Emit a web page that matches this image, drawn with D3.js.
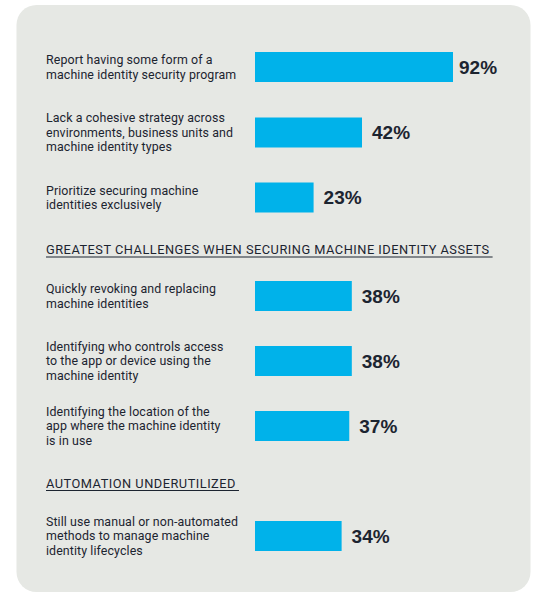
<!DOCTYPE html>
<html>
<head>
<meta charset="utf-8">
<script src="https://cdn.jsdelivr.net/npm/d3@7"></script>
<style>
  body { margin: 0; background: #fff; }
  svg { display: block; }
</style>
</head>
<body>
<div id="chart"></div>
<script>
// survey results, in the order they appear
const sections = ["", "GREATEST CHALLENGES WHEN SECURING MACHINE IDENTITY ASSETS", "AUTOMATION UNDERUTILIZED"];
const itemSection = [0, 0, 0, 1, 1, 1, 2];
const itemLabels = [
    ["Report having some form of a", "machine identity security program"],
    ["Lack a cohesive strategy across", "environments, business units and", "machine identity types"],
    ["Prioritize securing machine", "identities exclusively"],
    ["Quickly revoking and replacing", "machine identities"],
    ["Identifying who controls access", "to the app or device using the", "machine identity"],
    ["Identifying the location of the", "app where the machine identity", "is in use"],
    ["Still use manual or non-automated", "methods to manage machine", "identity lifecycles"]
];
const itemValues = [92, 42, 23, 38, 38, 37, 34];

const width = 540, height = 596;
const textColor = "#1c2430";
const barColor = "#00b2ea";
const labelFont = "Roboto, 'Noto Sans', sans-serif";

const svg = d3.select("#chart").append("svg")
    .attr("width", width)
    .attr("height", height);

// background card
svg.append("rect")
    .attr("x", 16.5).attr("y", 5)
    .attr("width", 514).attr("height", 587)
    .attr("rx", 20)
    .attr("fill", "#e6e8e4");

// vertical layout: each row centre, headers placed between groups
const rowY = [67, 132.5, 197.5, 296, 361, 426, 536];
const headerY = { 1: 250, 2: 483.5 };

// the original infographic squeezes the long bar, so the scale is piecewise
const x = d3.scaleLinear()
    .domain([0, 42, 92])
    .range([0, 107, 198]);

const barX = 255, barH = 30, labelX = 46;

const g = svg.append("g");

// section headers with underline
Object.keys(headerY).forEach(k => {
    const t = g.append("text")
        .attr("x", labelX)
        .attr("y", headerY[k])
        .attr("dy", "0.35em")
        .attr("fill", textColor)
        .style("font-family", labelFont)
        .style("font-size", "12.8px")
        .style("letter-spacing", "0.5px")
        .text(sections[k]);
    const w = t.node().getComputedTextLength();
    g.append("line")
        .attr("x1", labelX).attr("x2", labelX + w + 3)
        .attr("y1", headerY[k] + 7).attr("y2", headerY[k] + 7)
        .attr("stroke", textColor)
        .attr("stroke-width", 1.2);
});

const rows = g.selectAll("g.row")
    .data(itemValues)
    .join("g")
    .attr("class", "row")
    .attr("transform", (d, i) => `translate(0,${rowY[i]})`);

rows.append("rect")
    .attr("x", barX)
    .attr("y", -barH / 2)
    .attr("width", d => x(d))
    .attr("height", barH)
    .attr("fill", barColor);

rows.append("text")
    .attr("x", d => barX + x(d) + (d > 90 ? 6 : 10))
    .attr("y", 0)
    .attr("dy", "0.36em")
    .attr("fill", textColor)
    .style("font-family", "Liberation Sans, Arial, sans-serif")
    .style("font-weight", "bold")
    .style("font-size", "19px")
    .text(d => d + "%");

// multi-line labels, centred on the bar
rows.each(function (d, i) {
    const lines = itemLabels[i];
    const lh = 14.6;
    const t = d3.select(this).append("text")
        .attr("fill", textColor)
        .style("font-family", labelFont)
        .style("font-size", "12.4px")
        .style("letter-spacing", "0.1px");
    lines.forEach((ln, j) => {
        t.append("tspan")
            .attr("x", labelX)
            .attr("y", (j - (lines.length - 1) / 2) * lh)
            .attr("dy", "0.35em")
            .text(ln);
    });
});
</script>
</body>
</html>
